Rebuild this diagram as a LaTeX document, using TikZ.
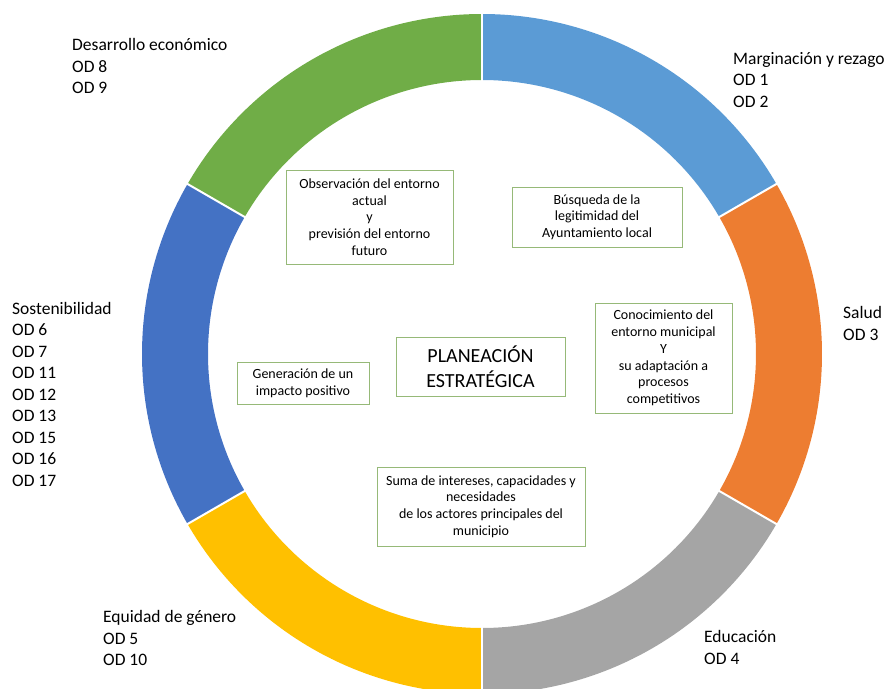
\documentclass[tikz,border=0pt]{standalone}
\usepackage{fontspec}
\setmainfont{Carlito}

\definecolor{margcol}{HTML}{5B9BD5}
\definecolor{saludcol}{HTML}{ED7D31}
\definecolor{educol}{HTML}{A5A5A5}
\definecolor{equicol}{HTML}{FFC000}
\definecolor{sostcol}{HTML}{4472C4}
\definecolor{desacol}{HTML}{70AD47}
\definecolor{boxline}{RGB}{150,185,120}

\begin{document}
\begin{tikzpicture}[x=1pt, y=1pt,
    box/.style={draw=boxline, line width=0.9pt, align=center, inner sep=2pt,
                font=\fontsize{14}{16.7}\selectfont},
    title/.style={box, font=\fontsize{20}{25}\selectfont},
    lbl/.style={anchor=west, align=left, inner sep=0pt,
                font=\fontsize{17.5}{21.5}\selectfont}
]
\pgfmathsetmacro{\rout}{340}
\pgfmathsetmacro{\rin}{274}

\useasboundingbox (-482,-334) rectangle (409,354);
\clip (-482,-334) rectangle (409,354);

%% ring, six sectors of 60 degrees
\foreach \a/\col in {30/margcol, -30/saludcol, -90/educol, 210/equicol, 150/sostcol, 90/desacol}{
  \fill[\col] (\a:\rout) arc[start angle=\a, end angle=\a+60, radius=\rout]
     -- (\a+60:\rin) arc[start angle=\a+60, end angle=\a, radius=\rin] -- cycle;
}
\foreach \a in {30,90,...,330}
  \draw[white, line width=2pt] (\a:\rin-1) -- (\a:\rout+1);

%% boxes inside the ring
\node[title, minimum width=169, minimum height=59] (plan) at (-1.5,-12.5) {PLANEACIÓN\\ESTRATÉGICA};
\node[box, minimum width=167, minimum height=94] (obs) at (-112.5,137)
  {Observación del entorno\\actual\\y\\previsión del entorno\\futuro};
\node[box, minimum width=170, minimum height=60] (busq) at (115,137)
  {Búsqueda de la\\legitimidad del\\Ayuntamiento local};
\node[box, minimum width=137, minimum height=110] (conoc) at (181.5,-4)
  {Conocimiento del\\entorno municipal\\Y\\su adaptación a\\procesos\\competitivos};
\node[box, minimum width=132, minimum height=42] (gener) at (-179,-29)
  {Generación de un\\impacto positivo};
\node[box, minimum width=208, minimum height=79] (suma) at (-1,-152.5)
  {Suma de intereses, capacidades y\\necesidades\\de los actores principales del\\municipio};

%% labels round the ring
\node[lbl] (desa) at (-410,288) {Desarrollo económico\\OD 8\\OD 9};
\node[lbl] (marg) at (251,274) {Marginación y rezago\\OD 1\\OD 2};
\node[lbl] (salud) at (361,30.5) {Salud\\OD 3};
\node[lbl] (sost) at (-470,-40) {Sostenibilidad\\OD 6\\OD 7\\OD 11\\OD 12\\OD 13\\OD 15\\OD 16\\OD 17};
\node[lbl] (equi) at (-379,-284) {Equidad de género\\OD 5\\OD 10};
\node[lbl] (edu) at (222,-293.5) {Educación\\OD 4};
\end{tikzpicture}
\end{document}
